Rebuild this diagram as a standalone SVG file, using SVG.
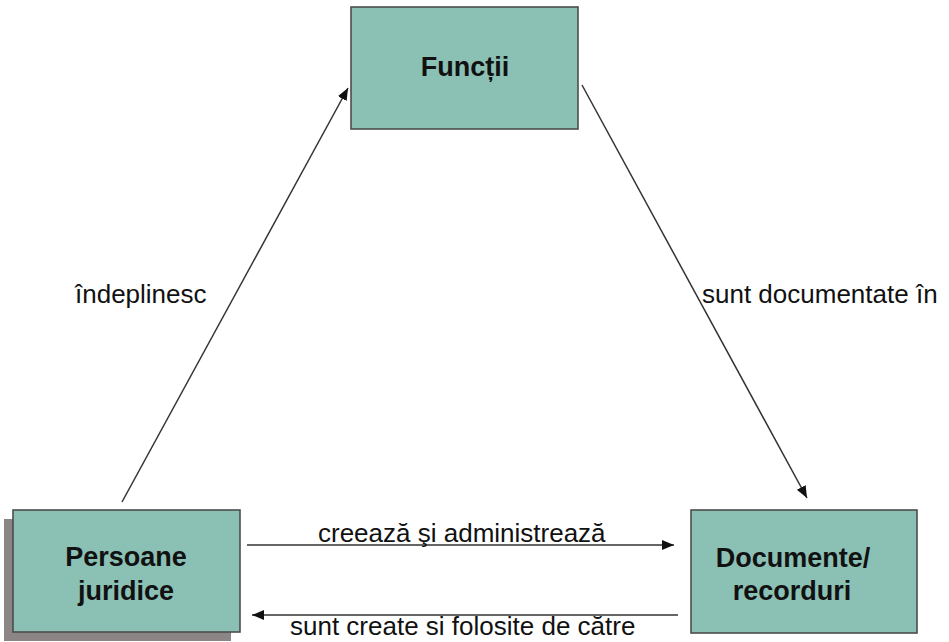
<svg xmlns="http://www.w3.org/2000/svg" width="949" height="642" viewBox="0 0 949 642">
<style>
.box{fill:#8bc0b5;stroke:#4d4d4d;stroke-width:1.6}
.shadow{fill:#8c8585}
.nt{font-family:"Liberation Sans",Arial,sans-serif;font-weight:bold;font-size:27px;fill:#111;text-anchor:middle}
.lb{font-family:"Liberation Sans",Arial,sans-serif;font-size:26px;fill:#111}
.cn{stroke:#333;stroke-width:1.5;fill:none;marker-end:url(#ah)}
</style>
<defs>
<marker id="ah" markerUnits="userSpaceOnUse" markerWidth="14" markerHeight="12" refX="12" refY="6" orient="auto">
<path d="M0,1 L12,6 L0,11 Z" fill="#111"/>
</marker>
</defs>
<rect width="949" height="642" fill="#fff"/>
<g id="connectors">
<line class="cn" x1="122" y1="502" x2="348" y2="88"/>
<line class="cn" x1="582" y1="85" x2="807" y2="498"/>
<line class="cn" x1="247" y1="545" x2="674" y2="545"/>
<line class="cn" x1="678" y1="615" x2="252" y2="615"/>
<text class="lb" x="75" y="303">îndeplinesc</text>
<text class="lb" x="702" y="303">sunt documentate în</text>
<text class="lb" x="318" y="542">creează şi administrează</text>
<text class="lb" x="290" y="635">sunt create si folosite de către</text>
</g>
<g id="functii">
<rect class="box" x="351" y="7" width="227" height="122"/>
<text class="nt" x="465" y="76">Funcții</text>
</g>
<g id="persoane">
<rect class="shadow" x="4" y="519" width="227" height="122"/>
<rect class="box" x="13" y="510" width="227" height="122"/>
<text class="nt" x="126" y="566">Persoane</text>
<text class="nt" x="126" y="600">juridice</text>
</g>
<g id="documente">
<rect class="box" x="691" y="510" width="226" height="123"/>
<text class="nt" x="793" y="567">Documente/</text>
<text class="nt" x="792" y="600">recorduri</text>
</g>
</svg>
